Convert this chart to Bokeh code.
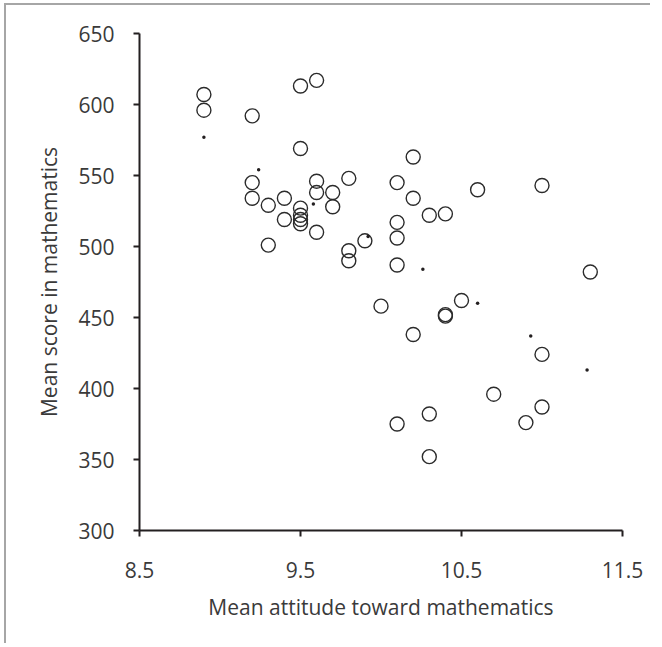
from bokeh.plotting import figure
from bokeh.models import Range1d, FixedTicker
from bokeh.embed import file_html
from bokeh.resources import INLINE

# Countries: mean attitude (x) vs mean math score (y)
attitude = [8.9, 8.9, 9.2, 9.5, 9.6, 9.5, 9.2, 9.2, 9.3, 9.4, 9.4, 9.5, 9.5, 9.5, 9.5,
            9.6, 9.6, 9.7, 9.7, 9.8, 9.6, 9.3, 9.8, 9.8, 9.9, 10.1, 10.1, 10.1, 10.1,
            10.2, 10.2, 10.6, 11.0, 10.3, 10.4, 11.3, 10.0, 10.5, 10.4, 10.4, 10.2,
            11.0, 10.7, 10.3, 10.1, 11.0, 10.9, 10.3]
score = [607, 596, 592, 613, 617, 569, 545, 534, 529, 534, 519, 527, 522, 519, 516,
         546, 538, 538, 528, 548, 510, 501, 497, 490, 504, 545, 517, 506, 487,
         563, 534, 540, 543, 522, 523, 482, 458, 462, 451, 452, 438,
         424, 396, 382, 375, 387, 376, 352]

# Fitted line shown as small dots
fit_x = [8.9, 9.24, 9.58, 9.92, 10.26, 10.6, 10.93, 11.28]
fit_y = [577, 554, 530, 507, 484, 460, 437, 413]

x_ticks = [8.5, 9.5, 10.5, 11.5]
y_ticks = [300, 350, 400, 450, 500, 550, 600, 650]

p = figure(width=646, height=640, output_backend="svg", toolbar_location=None,
           x_range=Range1d(8.5, 11.5), y_range=Range1d(300, 650),
           min_border_left=133, min_border_right=30, min_border_top=28, min_border_bottom=115)
p.styles = {"border-top": "2px solid #a6a6a6", "border-left": "2px solid #a6a6a6",
            "margin-left": "4px", "margin-top": "3px"}

p.grid.visible = False
p.outline_line_color = None
p.background_fill_color = "white"
p.border_fill_color = "white"

p.scatter(attitude, score, marker="circle", size=14, fill_color=None,
          line_color="#2b2b2b", line_width=1.4)
p.scatter(fit_x, fit_y, marker="circle", size=3.5, fill_color="#231f20", line_color=None)

for ax in (p.xaxis[0], p.yaxis[0]):
    ax.axis_line_color = "#231f20"
    ax.axis_line_width = 2
    ax.major_tick_line_color = "#231f20"
    ax.major_tick_line_width = 2
    ax.major_tick_out = 6
    ax.major_tick_in = 0
    ax.minor_tick_line_color = None
    ax.major_label_text_font = "Open Sans"
    ax.major_label_text_font_size = "21px"
    ax.major_label_text_color = "#3a3a3a"
    ax.axis_label_text_font = "Open Sans"
    ax.axis_label_text_font_size = "21px"
    ax.axis_label_text_font_style = "normal"
    ax.axis_label_text_color = "#3a3a3a"

p.xaxis.ticker = FixedTicker(ticks=x_ticks)
p.yaxis.ticker = FixedTicker(ticks=y_ticks)
p.xaxis.major_label_overrides = {8.5: "8.5", 9.5: "9.5", 10.5: "10.5", 11.5: "11.5"}
p.xaxis.axis_label = "Mean attitude toward mathematics"
p.yaxis.axis_label = "Mean score in mathematics"
p.xaxis.major_label_standoff = 25
p.yaxis.major_label_standoff = 19
p.xaxis.axis_label_standoff = 12
p.yaxis.axis_label_standoff = 12

open("out.html", "w").write(file_html(p, INLINE))
